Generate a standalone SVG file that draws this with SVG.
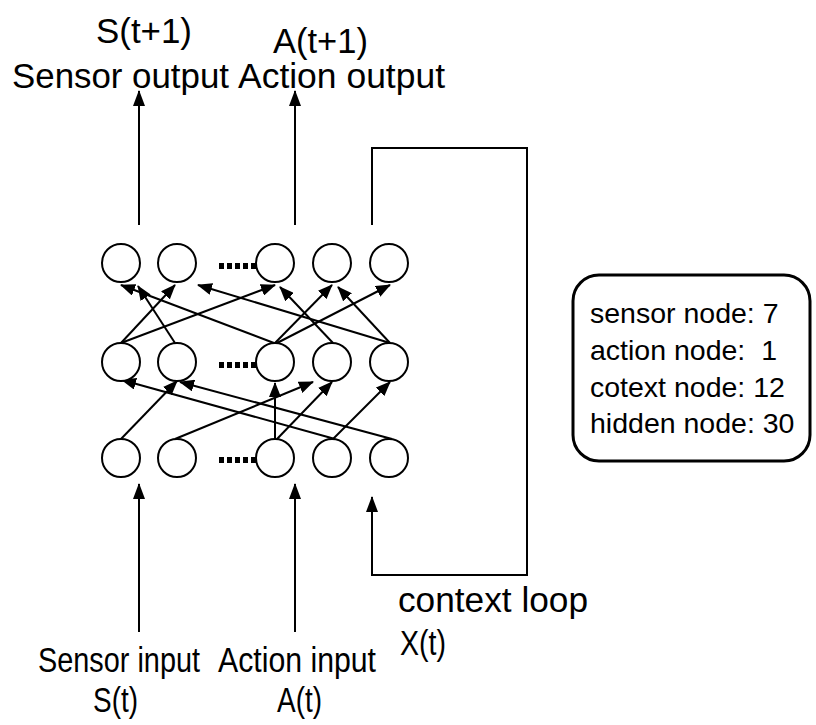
<svg xmlns="http://www.w3.org/2000/svg" width="816" height="725" viewBox="0 0 816 725">
<style>
.lbl{font-family:"Liberation Sans",Arial,sans-serif;font-size:35px;fill:#000}
.info{font-family:"Liberation Sans",Arial,sans-serif;font-size:28.5px;fill:#000}
.node{fill:#fff;stroke:#000;stroke-width:2}
.edge{stroke:#000;stroke-width:2;fill:none;marker-end:url(#ah)}
.io{stroke:#000;stroke-width:2;fill:none;marker-end:url(#big)}
.dots{stroke:#000;stroke-width:6;stroke-dasharray:5 3}
</style>
<defs>
<marker id="ah" markerUnits="userSpaceOnUse" markerWidth="15" markerHeight="12" viewBox="0 0 15 12" refX="14" refY="6" orient="auto"><path d="M0,0 L15,6 L0,12 z" fill="#000"/></marker>
<marker id="big" markerUnits="userSpaceOnUse" markerWidth="16" markerHeight="12" viewBox="0 0 16 12" refX="15" refY="6" orient="auto"><path d="M0,0 L16,6 L0,12 z" fill="#000"/></marker>
</defs>
<rect width="816" height="725" fill="#fff"/>

<g id="labels">
<text class="lbl" x="96" y="43" textLength="96" lengthAdjust="spacingAndGlyphs">S(t+1)</text>
<text class="lbl" x="273" y="53" textLength="95" lengthAdjust="spacingAndGlyphs">A(t+1)</text>
<text class="lbl" x="12" y="88" textLength="217" lengthAdjust="spacingAndGlyphs">Sensor output</text>
<text class="lbl" x="238" y="88" textLength="207" lengthAdjust="spacingAndGlyphs">Action output</text>
<text class="lbl" x="38" y="672" textLength="162" lengthAdjust="spacingAndGlyphs">Sensor input</text>
<text class="lbl" x="218" y="672" textLength="158" lengthAdjust="spacingAndGlyphs">Action input</text>
<text class="lbl" x="93" y="712" textLength="45" lengthAdjust="spacingAndGlyphs">S(t)</text>
<text class="lbl" x="277" y="712" textLength="45" lengthAdjust="spacingAndGlyphs">A(t)</text>
<text class="lbl" x="398" y="612" textLength="190" lengthAdjust="spacingAndGlyphs">context loop</text>
<text class="lbl" x="400" y="655" textLength="46" lengthAdjust="spacingAndGlyphs">X(t)</text>
</g>

<g id="connectors">
<path class="io" d="M139,225 V91"/>
<path class="io" d="M295,225 V91"/>
<path class="io" d="M139,632 V484"/>
<path class="io" d="M295,632 V484"/>
<path class="io" d="M372,225 V148 H527 V575 H372 V497"/>
<path class="edge" d="M121,343 L175,285"/>
<path class="edge" d="M121,343 L275,285"/>
<path class="edge" d="M175,343 L138,286"/>
<path class="edge" d="M274,343 L121,285"/>
<path class="edge" d="M275,343 L332,285"/>
<path class="edge" d="M277,343 L390,285"/>
<path class="edge" d="M333,343 L280,287"/>
<path class="edge" d="M390,343 L198,285"/>
<path class="edge" d="M390,343 L338,287"/>
<path class="edge" d="M120,440 L177,381"/>
<path class="edge" d="M175,439 L313,382"/>
<path class="edge" d="M275,440 L275,383"/>
<path class="edge" d="M277,439 L332,382"/>
<path class="edge" d="M333,439 L390,382"/>
<path class="edge" d="M335,439 L122,380"/>
<path class="edge" d="M392,439 L180,382"/>
</g>

<g id="dots">
<line class="dots" x1="219" y1="266" x2="256" y2="266"/>
<line class="dots" x1="219" y1="365" x2="256" y2="365"/>
<line class="dots" x1="219" y1="460" x2="256" y2="460"/>
</g>

<g id="output-layer">
<circle class="node" cx="121" cy="263" r="19"/>
<circle class="node" cx="177" cy="263" r="19"/>
<circle class="node" cx="275" cy="263" r="19"/>
<circle class="node" cx="332" cy="263" r="19"/>
<circle class="node" cx="389" cy="263" r="19"/>
</g>
<g id="hidden-layer">
<circle class="node" cx="121" cy="362" r="19"/>
<circle class="node" cx="177" cy="362" r="19"/>
<circle class="node" cx="275" cy="362" r="19"/>
<circle class="node" cx="332" cy="362" r="19"/>
<circle class="node" cx="389" cy="362" r="19"/>
</g>
<g id="input-layer">
<circle class="node" cx="121" cy="458" r="19"/>
<circle class="node" cx="177" cy="458" r="19"/>
<circle class="node" cx="275" cy="458" r="19"/>
<circle class="node" cx="332" cy="458" r="19"/>
<circle class="node" cx="389" cy="458" r="19"/>
</g>

<g id="info-box">
<rect x="573" y="275" width="237" height="186" rx="26" fill="#fff" stroke="#000" stroke-width="3"/>
<text class="info" x="590" y="323">sensor node: 7</text>
<text class="info" x="590" y="360" xml:space="preserve">action node:  1</text>
<text class="info" x="590" y="397">cotext node: 12</text>
<text class="info" x="590" y="433">hidden node: 30</text>
</g>
</svg>
